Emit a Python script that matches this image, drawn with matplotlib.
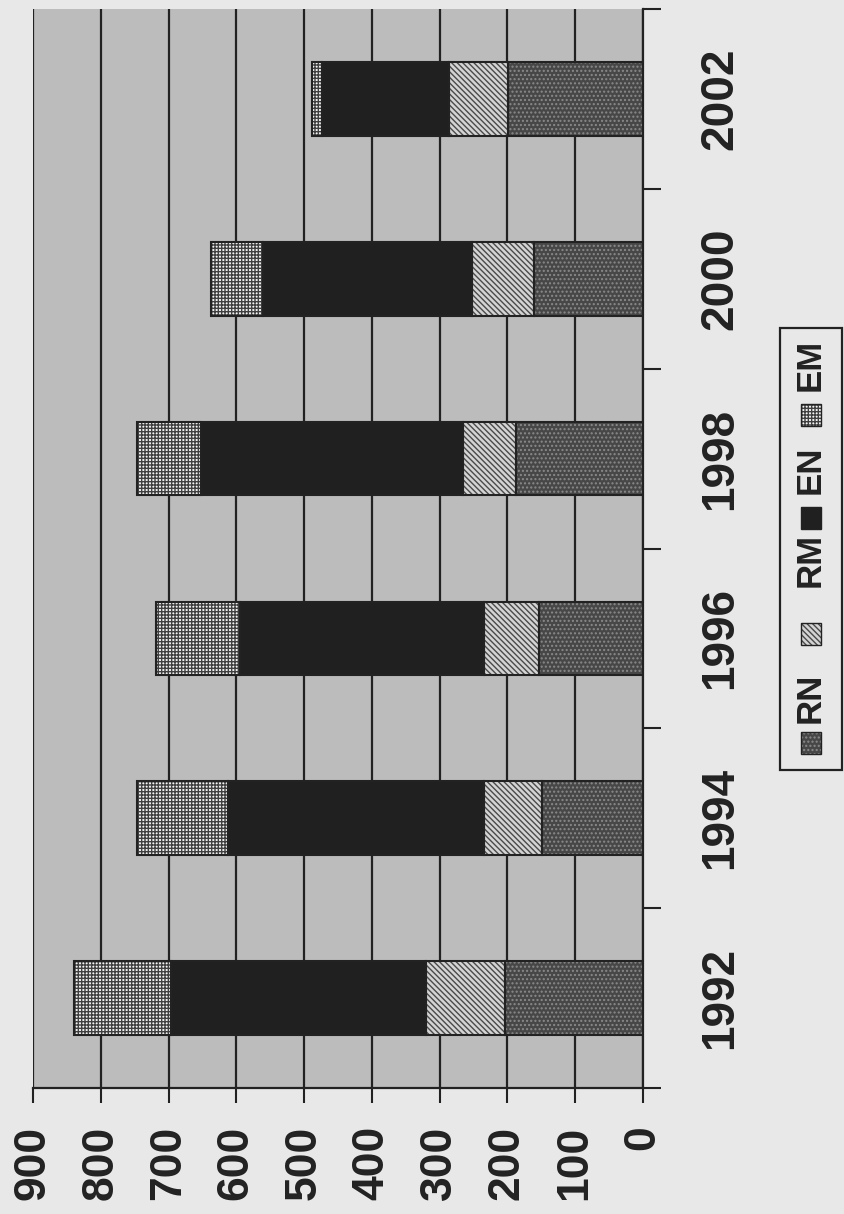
import matplotlib
matplotlib.use("Agg")
import matplotlib.pyplot as plt
from matplotlib.patches import Rectangle

years = ["1992", "1994", "1996", "1998", "2000", "2002"]
series = ["RN", "RM", "EN", "EM"]
rn = [204, 149, 153, 188, 161, 199]
rm = [116, 85, 82, 77, 92, 87]
en = [376, 379, 360, 387, 307, 187]
em = [143, 133, 124, 94, 77, 15]

# estilo de cada serie: fondo, color de trama, trama
estilos = {
    "RN": ("#474747", "#8a8a8a", "...."),
    "RM": ("#d4d4d4", "#4a4a4a", "\\\\\\\\\\\\"),
    "EN": ("#202020", "#202020", None),
    "EM": ("#f4f4f4", "#404040", "+++++"),
}

plt.rcParams["font.family"] = ["Liberation Sans", "DejaVu Sans"]
plt.rcParams["font.weight"] = "bold"
plt.rcParams["hatch.linewidth"] = 1.0

fig = plt.figure(figsize=(8.45, 12.14), dpi=100, facecolor="#e8e8e8")
ax = fig.add_axes([33 / 845, 1 - 1088 / 1214, 610 / 845, 1079 / 1214])
ax.set_facecolor("#bcbcbc")

pos = list(range(len(years)))
base = [0] * len(years)
for nombre, valores in zip(series, [rn, rm, en, em]):
    cara, trama_color, trama = estilos[nombre]
    ax.barh(pos, valores, left=base, height=0.41, color=cara,
            edgecolor=trama_color, hatch=trama, linewidth=0, zorder=3)
    ax.barh(pos, valores, left=base, height=0.41, fill=False,
            edgecolor="#222222", linewidth=1.5, zorder=4)
    base = [b + v for b, v in zip(base, valores)]

ax.set_xlim(900, 0)
ax.set_ylim(-0.5, 5.5)
ax.set_xticks(range(0, 901, 100))
ax.set_xticklabels([str(v) for v in range(0, 901, 100)], rotation=90,
                   fontsize=32, fontweight="bold", color="#222222")
ax.tick_params(axis="x", direction="out", length=11, width=1.5,
               color="#222222", pad=16)
ax.grid(axis="x", color="#222222", linewidth=1.6, zorder=1)
ax.set_axisbelow(True)

ax.yaxis.tick_right()
ax.set_yticks(pos)
ax.set_yticklabels(years, rotation=90, fontsize=33, fontweight="bold",
                   color="#222222", va="center")
ax.set_yticks([p - 0.5 for p in pos] + [5.5], minor=True)
ax.tick_params(axis="y", which="major", length=0, pad=40)
ax.tick_params(axis="y", which="minor", direction="out", length=13,
               width=1.5, color="#222222")

for lado in ["top", "left"]:
    ax.spines[lado].set_visible(False)
for lado in ["bottom", "right"]:
    ax.spines[lado].set_linewidth(1.6)
    ax.spines[lado].set_color("#222222")

# leyenda girada, dibujada a mano en coordenadas de pixel
lax = fig.add_axes([0, 0, 1, 1])
lax.set_xlim(0, 845)
lax.set_ylim(1214, 0)
lax.axis("off")
lax.add_patch(Rectangle((780, 328), 62, 442, fill=False,
                        edgecolor="#222222", linewidth=1.6))
muestras_y = [743, 634, 518, 415]
textos_y = [698, 560, 470, 365]
for nombre, my, ty in zip(series, muestras_y, textos_y):
    cara, trama_color, trama = estilos[nombre]
    lax.add_patch(Rectangle((801, my - 11), 20, 22, facecolor=cara,
                            edgecolor=trama_color, hatch=trama, linewidth=0))
    lax.add_patch(Rectangle((801, my - 11), 20, 22, fill=False,
                            edgecolor="#222222", linewidth=1.0))
    lax.text(810, ty, nombre, rotation=90, fontsize=25, fontweight="bold",
             color="#222222", ha="center", va="center")

fig.savefig("out.png", dpi=100, facecolor=fig.get_facecolor())
